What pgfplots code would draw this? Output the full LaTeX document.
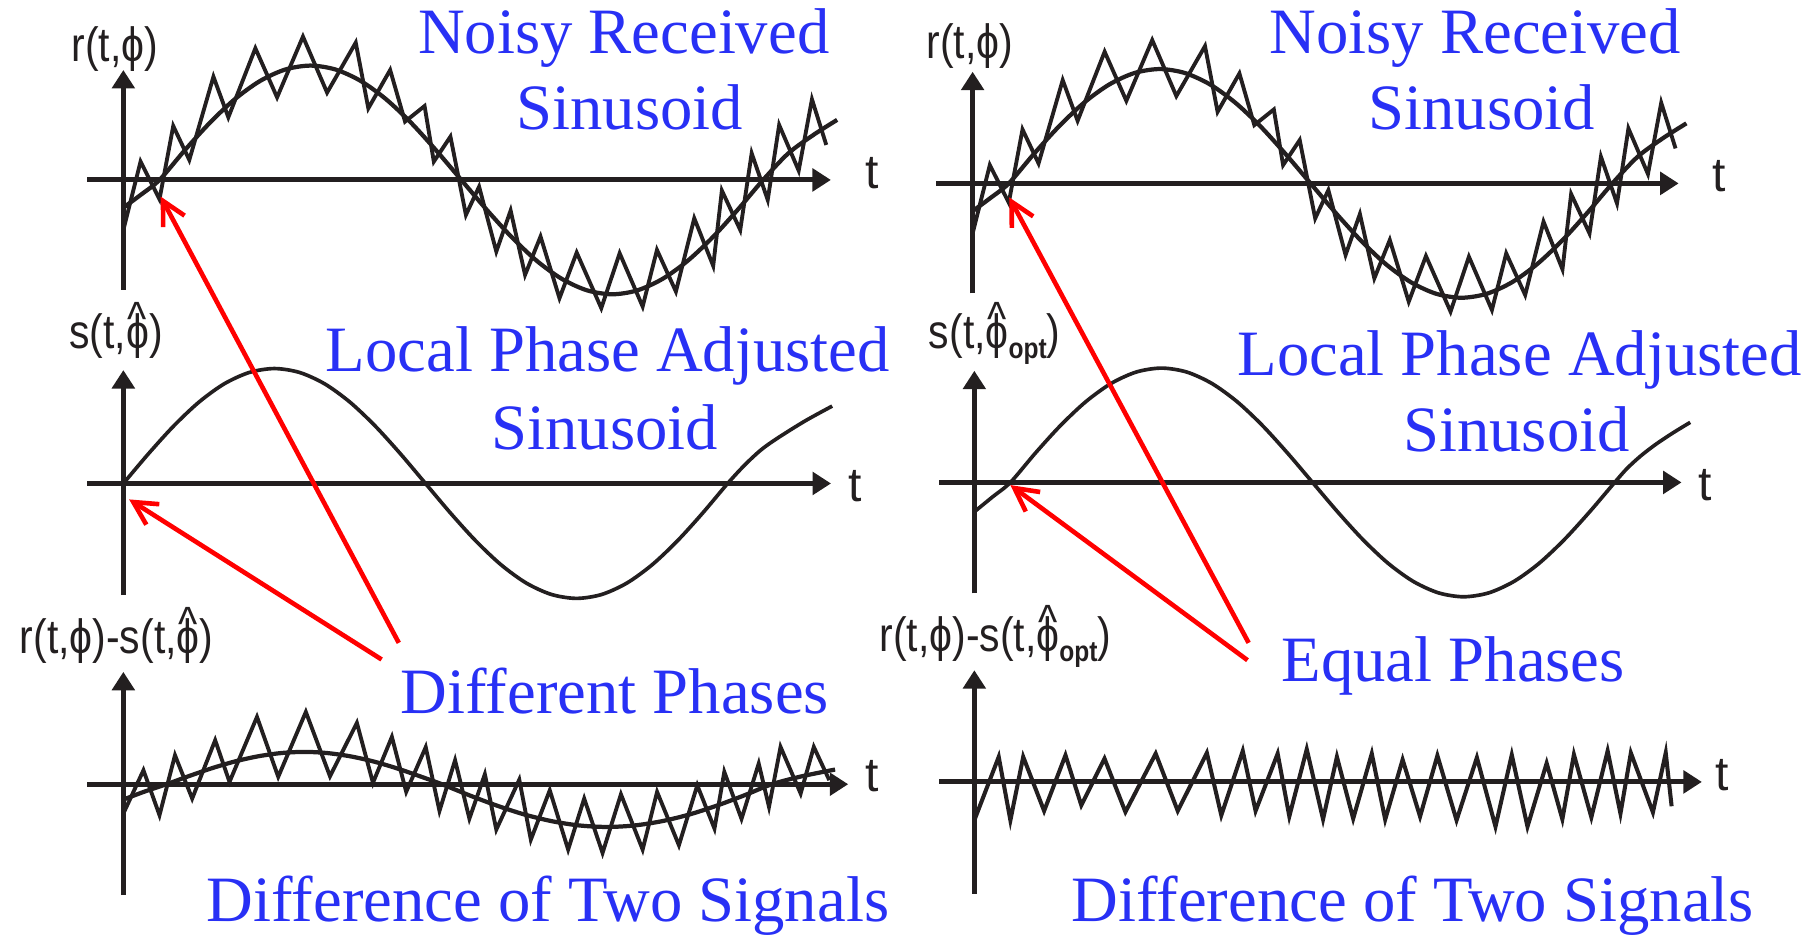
\documentclass[border=0pt]{standalone}
\usepackage{graphicx}
\usepackage{pgfplots}
\pgfplotsset{compat=1.18}
\usepackage{pgfplotstable}
\usetikzlibrary{arrows.meta}
\usepackage{fontspec}
\setmainfont{Liberation Serif}
\newfontfamily\lab{Liberation Sans}
\definecolor{ink}{RGB}{35,31,32}
\definecolor{tblue}{RGB}{40,48,245}
\definecolor{tred}{RGB}{255,0,0}
\newcommand\hphi{\ooalign{ϕ\cr\hidewidth\raisebox{0.27em}{\textasciicircum}\hidewidth\cr}}
\newcommand\opt{\raisebox{-2.6pt}{\fontsize{7.5pt}{8pt}\selectfont\bfseries opt}}
\newcommand\nar[1]{\scalebox{0.85}[1]{#1}}

% noisy received sinusoid (rows 1)
\pgfplotstableread{
x y
0 -24
15.6 -12.5
31.3 0
53.1 25.6
74.9 49.5
96.6 70.0
118.4 85.7
140.2 95.6
162.0 99
183.7 95.6
205.5 85.7
227.3 70.0
249.1 49.5
270.8 25.6
292.6 0
314.4 -25.6
336.2 -49.5
357.9 -70.0
379.7 -85.7
401.5 -95.6
423.3 -99
445.0 -95.6
466.8 -85.7
488.6 -70.0
510.4 -49.5
532.1 -25.6
553.9 0
575.7 23
597.5 39
618 52
}\sineA
\pgfplotstableread{
x y
0 -43.3
14.9 15.9
31.3 -16.7
43.2 46.7
57.1 17.3
78.0 89.4
90.9 54.2
114.3 114.0
133.1 71.5
155.5 124.1
176.4 75.6
201.2 118.9
212.1 62.0
231.0 95.2
243.9 50.5
260.8 64.0
268.8 15.9
283.2 37.5
296.6 -30.3
308.0 -5.8
322.9 -62.0
335.3 -26.5
347.8 -82.2
361.2 -49.0
377.6 -102.4
392.5 -62.9
413.8 -111.0
429.7 -63.5
449.6 -109.6
462.0 -60.6
478.4 -96.6
494.3 -33.2
510.7 -74.4
518.2 -9.2
534.1 -43.3
544.0 23.1
557.9 -17.3
567.8 47.6
584.7 8.1
596.2 69.8
608.6 30.3
}\zigA
% local sinusoid, left
\pgfplotstableread{
x y
0 0
21.8 25.8
43.6 49.8
65.4 70.4
87.2 86.2
109.0 96.1
130.8 99.5
152.6 96.1
174.4 86.2
196.2 70.4
218.0 49.8
239.8 25.8
261.6 0
283.4 -25.8
305.2 -49.8
327.0 -70.4
348.8 -86.2
370.6 -96.1
392.4 -99.5
414.2 -96.1
436.0 -86.2
457.8 -70.4
479.6 -49.8
501.4 -25.8
523.2 0
538 16
552 29
566 39
590 54
613.7 67
}\sineB
% local sinusoid, right (optimal phase)
\pgfplotstableread{
x y
0.5 -25
15.8 -12.5
31.2 0
53.0 25.6
74.8 49.5
96.6 70.0
118.4 85.7
140.2 95.6
162.0 99
183.8 95.6
205.6 85.7
227.4 70.0
249.2 49.5
271.0 25.6
292.8 0
314.6 -25.6
336.4 -49.5
358.2 -70.0
380.0 -85.7
401.8 -95.6
423.6 -99
445.4 -95.6
467.2 -85.7
489.0 -70.0
510.8 -49.5
532.6 -25.6
554.4 0
565 12
577 23
590 33
605 43
619.8 52
}\sineC
% difference, left: smooth part
\pgfplotstableread{
x y
0 -13.3
18 -6.5
37.3 0
57.2 7.2
77.1 14.0
96.9 19.8
116.8 24.2
136.7 27.0
156.6 28
176.4 27.0
196.3 24.2
216.2 19.8
236.1 14.0
255.9 7.2
275.8 0
299.6 -9.6
323.4 -18.5
347.2 -26.2
371.0 -32.0
394.8 -35.7
418.7 -37
442.5 -35.7
466.3 -32.0
490.1 -26.2
513.9 -18.5
537.7 -9.6
561.5 0
588 7
616.2 12.7
}\sineD
% difference, left: noisy
\pgfplotstableread{
x y
0 -25.4
17.4 12.1
31.3 -26.8
44.7 25.1
59.6 -12.4
79.5 38.1
91.9 2.0
115.7 58.3
134.1 6.4
158.0 62.6
178.9 6.9
202.2 53.1
216.1 1.2
232.5 41.0
244.9 -6.6
261.8 32.1
273.7 -23.1
287.2 20.8
299.6 -29.8
313.0 8.7
322.9 -39.3
342.8 4.0
352.8 -48.0
369.2 -5.2
385.1 -56.6
399.0 -12.4
414.9 -59.5
430.8 -8.7
449.6 -56.6
462.1 -6.6
481.0 -52.8
496.9 -0.9
511.8 -38.4
520.3 10.7
535.2 -30.0
550.1 17.9
559.0 -19.6
569.0 32.3
586.4 -8.1
597.8 32.3
611.2 3.5
}\zigD
% difference, right: noise only
\pgfplotstableread{
x y
0 -33.2
21.1 21.7
31.2 -33.2
42.3 21.7
60.4 -25.1
78.9 23.1
92.6 -20.2
112.7 20.2
130.8 -26.0
157.0 24.5
176.1 -25.1
201.3 25.1
213.8 -28.9
232.4 26.8
243.5 -25.1
262.6 24.5
272.7 -29.8
287.8 28.3
301.9 -32.3
313.9 21.7
328.0 -31.8
344.1 24.5
355.7 -32.6
370.8 19.3
385.9 -30.0
400.9 22.8
417.5 -33.2
435.1 21.1
451.2 -38.7
465.3 23.4
478.9 -38.7
495.5 16.2
509.1 -32.3
519.1 23.7
534.2 -30.6
548.3 26.8
559.4 -27.4
568.4 25.1
587.5 -26.3
598.6 25.1
603.7 -21.1
}\zigE

\pgfplotsset{panel/.style={
  axis lines=middle, anchor=origin, x=0.3pt, y=0.3pt, clip=false,
  xtick=\empty, ytick=\empty, enlargelimits=false,
  axis line style={line width=1.3pt, draw=ink},
  every inner x axis line/.append style={-{Triangle[length=4.8pt,width=5.8pt]}},
  every inner y axis line/.append style={-{Triangle[length=4.8pt,width=5.8pt]}},
},
sine/.style={ink, line width=1.1pt, smooth, no markers},
zig/.style={ink, line width=1.0pt, line join=miter, miter limit=20, no markers}}

\begin{document}
\begin{tikzpicture}
\useasboundingbox (0,0) rectangle (470.4pt,-242.7pt);

% ---- left column ----
\begin{axis}[panel, at={(32.04pt,-46.74pt)}, xmin=-31.3, xmax=612.6, ymin=-95.2, ymax=95.2]
\addplot[sine] table {\sineA};
\addplot[zig] table {\zigA};
\end{axis}
\begin{axis}[panel, at={(32.04pt,-125.58pt)}, xmin=-31.3, xmax=612.7, ymin=-96.7, ymax=98.2]
\addplot[sine, line width=0.95pt] table {\sineB};
\end{axis}
\begin{axis}[panel, at={(32.04pt,-203.7pt)}, xmin=-31.3, xmax=627.6, ymin=-96.1, ymax=97.3]
\addplot[sine] table {\sineD};
\addplot[zig] table {\zigD};
\end{axis}

% ---- right column ----
\begin{axis}[panel, at={(252.63pt,-47.64pt)}, xmin=-31.7, xmax=611.3, ymin=-95.3, ymax=96.7]
\addplot[sine] table {\sineA};
\addplot[zig] table {\zigA};
\end{axis}
\begin{axis}[panel, at={(253.08pt,-125.31pt)}, xmin=-30.2, xmax=612.3, ymin=-96.1, ymax=96.7]
\addplot[sine, line width=0.95pt] table {\sineC};
\end{axis}
\begin{axis}[panel, at={(253.08pt,-203.1pt)}, xmin=-30.2, xmax=629.9, ymin=-96.7, ymax=96.7]
\addplot[zig, line width=1.05pt] table {\zigE};
\end{axis}

% ---- axis labels ----
\begin{scope}[every node/.style={inner sep=0pt, font=\lab\fontsize{12.5pt}{14pt}\selectfont, text=ink}]
\node[anchor=base] at (29.82pt,-16.02pt) {\nar{r(t,ϕ)}};
\node[anchor=base] at (251.88pt,-15.15pt) {\nar{r(t,ϕ)}};
\node[anchor=base] at (30.12pt,-90.51pt) {\nar{s(t,\hphi)}};
\node[anchor=base] at (258.36pt,-90.51pt) {\nar{s(t,\hphi\opt)}};
\node[anchor=base] at (30.27pt,-169.74pt) {\nar{r(t,ϕ)-s(t,\hphi)}};
\node[anchor=base east] at (288.84pt,-169.29pt) {\nar{r(t,ϕ)-s(t,\hphi\opt)}};
\node[anchor=base] at (226.5pt,-48.9pt) {t};
\node[anchor=base] at (446.58pt,-49.8pt) {t};
\node[anchor=base] at (222.12pt,-130.35pt) {t};
\node[anchor=base] at (442.8pt,-129.9pt) {t};
\node[anchor=base] at (226.59pt,-205.68pt) {t};
\node[anchor=base] at (447.33pt,-205.26pt) {t};
\end{scope}

% ---- blue captions ----
\begin{scope}[every node/.style={inner sep=0pt, anchor=base, text=tblue, font=\rmfamily\fontsize{16.8pt}{20pt}\selectfont}]
\node at (162pt,-13.86pt) {Noisy Received};
\node at (163.59pt,-33.6pt) {Sinusoid};
\node at (383.19pt,-13.86pt) {Noisy Received};
\node at (384.84pt,-33.6pt) {Sinusoid};
\node at (157.86pt,-96.57pt) {Local Phase Adjusted};
\node at (157.05pt,-116.73pt) {Sinusoid};
\node at (394.68pt,-97.44pt) {Local Phase Adjusted};
\node at (393.9pt,-117.36pt) {Sinusoid};
\node at (159.72pt,-185.34pt) {Different Phases};
\node at (142.35pt,-239.46pt) {Difference of Two Signals};
\node at (377.46pt,-177.09pt) {Equal Phases};
\node at (366.96pt,-239.46pt) {Difference of Two Signals};
\end{scope}

% ---- red pointers ----
\begin{scope}[tred, line width=1.2pt, -{Straight Barb[length=6pt,width=6.3pt]}]
\draw (103.59pt,-166.98pt) -- (41.73pt,-51.06pt);
\draw (99.12pt,-171.3pt) -- (33.54pt,-129.72pt);
\draw (324.33pt,-166.98pt) -- (262.14pt,-51.27pt);
\draw (324.03pt,-171.48pt) -- (262.44pt,-126pt);
\end{scope}
\end{tikzpicture}
\end{document}
